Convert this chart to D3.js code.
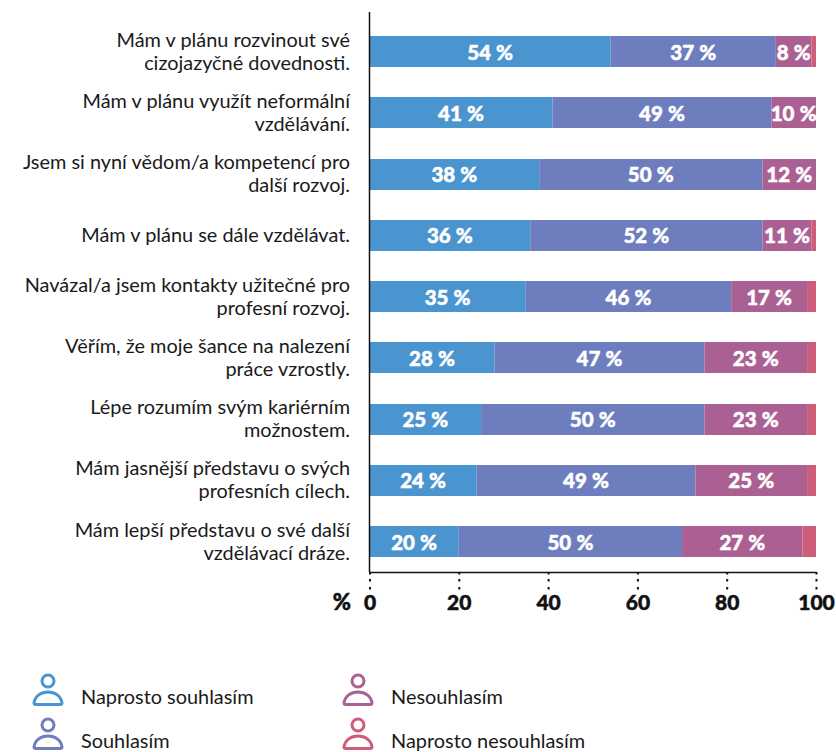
<!DOCTYPE html>
<html><head><meta charset="utf-8">
<script src="https://cdn.jsdelivr.net/npm/d3@7"></script>
<style>html,body{margin:0;background:#fff}svg{display:block}text{font-family:Lato,sans-serif}</style>
</head><body><svg id="c" width="836" height="752"></svg>
<script>
const categories = [
 ["Mám v plánu rozvinout své","cizojazyčné dovednosti."],
 ["Mám v plánu využít neformální","vzdělávání."],
 ["Jsem si nyní vědom/a kompetencí pro","další rozvoj."],
 ["Mám v plánu se dále vzdělávat."],
 ["Navázal/a jsem kontakty užitečné pro","profesní rozvoj."],
 ["Věřím, že moje šance na nalezení","práce vzrostly."],
 ["Lépe rozumím svým kariérním","možnostem."],
 ["Mám jasnější představu o svých","profesních cílech."],
 ["Mám lepší představu o své další","vzdělávací dráze."]];
const seriesNames = ["Naprosto souhlasím","Souhlasím","Nesouhlasím","Naprosto nesouhlasím"];
const colors = ["#4a94d0","#6d7dbd","#ab6093","#cd5d78"];
const stronglyAgree = [54,41,38,36,35,28,25,24,20];
const agree = [37,49,50,52,46,47,50,49,50];
const disagree = [8,10,12,11,17,23,23,25,27];
const stronglyDisagree = [1,0,0,1,2,2,2,2,3];
const ticks = [0,20,40,60,80,100];
const series = [stronglyAgree,agree,disagree,stronglyDisagree];

const svg = d3.select("#c");
const x = d3.scaleLinear().domain([0,100]).range([369.5,816]);
const bh = 31;
const yc = i => 51.5 + i*61.25;

categories.forEach((c,i)=>{
  let cum=0;
  series.forEach((s,k)=>{
    const v=s[i];
    if(v>0){
      svg.append("rect").attr("x",x(cum)).attr("y",Math.round(yc(i)-bh/2)).attr("width",x(cum+v)-x(cum)).attr("height",bh).attr("fill",colors[k]);
      if(v>=5) svg.append("text").attr("x",x(cum+v/2)).attr("y",yc(i)+8).attr("text-anchor","middle")
        .attr("fill","#fff").attr("stroke","#fff").attr("stroke-width",0.5).attr("font-size",20.5).attr("font-weight",900).text(v+"\u202F%");
    }
    cum+=v;
  });
  const t=svg.append("text").attr("text-anchor","end").attr("font-size",19.9).attr("fill","#1a1a1a");
  const y0 = c.length>1 ? yc(i)-5 : yc(i)+7;
  c.forEach((l,j)=>t.append("tspan").attr("x",350).attr("y",y0+j*23).text(l));
});

svg.append("line").attr("x1",369.5).attr("x2",369.5).attr("y1",12).attr("y2",572).attr("stroke","#111").attr("stroke-width",1.5);
const axis = d3.axisBottom(x).tickValues(ticks).tickSize(0).tickPadding(0).tickFormat(d=>d);
const g = svg.append("g").attr("transform","translate(0,572)").call(axis);
g.select(".domain").attr("stroke","#111").attr("stroke-width",1.5);
g.selectAll(".tick text").attr("y",38).attr("dy",0).attr("font-size",21).attr("font-weight",900).attr("fill","#111").attr("stroke","#111").attr("stroke-width",0.5).style("font-family","Lato,sans-serif");
[0,7,15].forEach(d=>g.selectAll(".tick").append("rect").attr("x",-1).attr("y",d).attr("width",2).attr("height",2.5).attr("fill","#111"));
svg.append("text").attr("x",351).attr("y",610).attr("text-anchor","end").attr("font-size",22).attr("font-weight",900).attr("fill","#111").attr("stroke","#111").attr("stroke-width",0.5).text("%");

const pos=[[33,698],[33,742],[343,698],[343,742]];
seriesNames.forEach((name,k)=>{
  const [px,py]=pos[k];
  const ic=svg.append("g").attr("transform",`translate(${px},${py})`).attr("fill","none").attr("stroke",colors[k]).attr("stroke-width",3);
  ic.append("circle").attr("cx",15).attr("cy",-17).attr("r",6);
  ic.append("path").attr("d","M3,6.5 H27 Q29,6.5 29,5 C28,-2 22,-6 15,-6 C8,-6 2,-2 1,5 Q1,6.5 3,6.5 Z");
  svg.append("text").attr("x",k<2?81:391).attr("y",py+6).attr("font-size",19.9).attr("fill","#1a1a1a").text(name);
});
</script></body></html>
